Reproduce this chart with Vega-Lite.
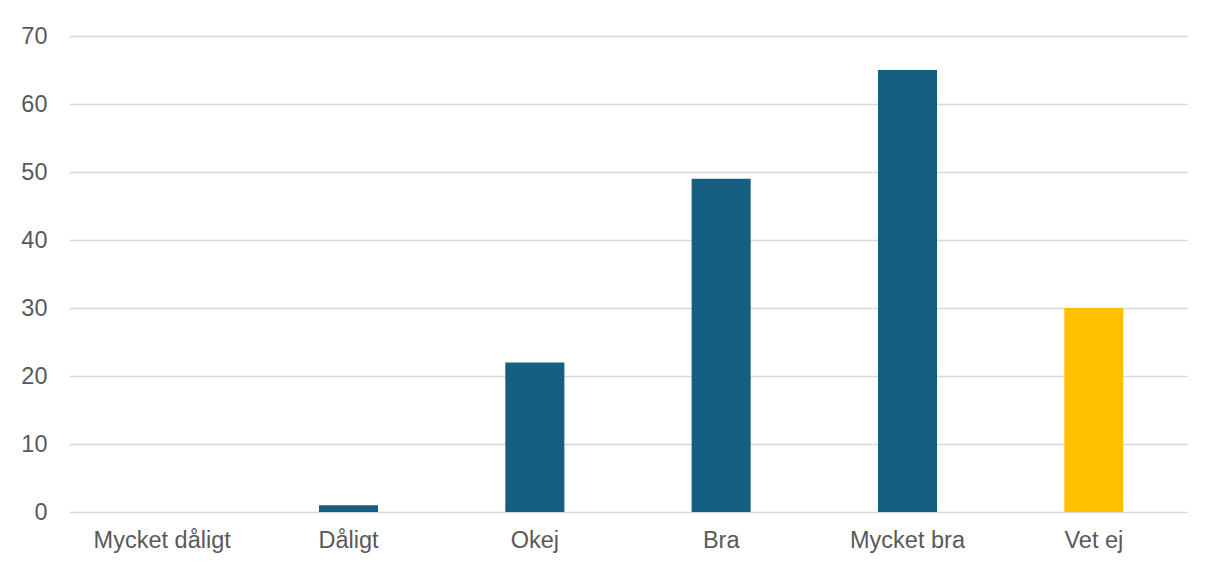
{
  "$schema": "https://vega.github.io/schema/vega-lite/v6.json",
  "width": 1118,
  "height": 476,
  "autosize": {"type": "none"},
  "padding": {"left": 69, "top": 36, "right": 26, "bottom": 53},
  "background": "white",
  "config": {"view": {"stroke": null}, "font": "Liberation Sans"},
  "data": {"values": [
    {"kategori": "Mycket dåligt", "antal": 0, "grupp": "a"},
    {"kategori": "Dåligt", "antal": 1, "grupp": "a"},
    {"kategori": "Okej", "antal": 22, "grupp": "a"},
    {"kategori": "Bra", "antal": 49, "grupp": "a"},
    {"kategori": "Mycket bra", "antal": 65, "grupp": "a"},
    {"kategori": "Vet ej", "antal": 30, "grupp": "b"}
  ]},
  "mark": {"type": "bar"},
  "encoding": {
    "x": {
      "field": "kategori", "type": "nominal", "sort": null, "title": null,
      "scale": {"paddingInner": 0.683, "paddingOuter": 0.3415},
      "axis": {"labelAngle": 0, "labelFontSize": 23.5, "labelColor": "#595959", "ticks": false, "domain": false, "labelPadding": 16}
    },
    "y": {
      "field": "antal", "type": "quantitative", "title": null,
      "scale": {"domain": [0, 70], "nice": false},
      "axis": {"values": [0,10,20,30,40,50,60,70], "labelFontSize": 23.5, "labelColor": "#595959", "ticks": false, "domain": false, "labelPadding": 22, "gridColor": "#d9d9d9", "gridWidth": 1.6}
    },
    "color": {
      "field": "grupp", "type": "nominal", "legend": null,
      "scale": {"domain": ["a", "b"], "range": ["#175F80", "#FFC000"]}
    }
  }
}
